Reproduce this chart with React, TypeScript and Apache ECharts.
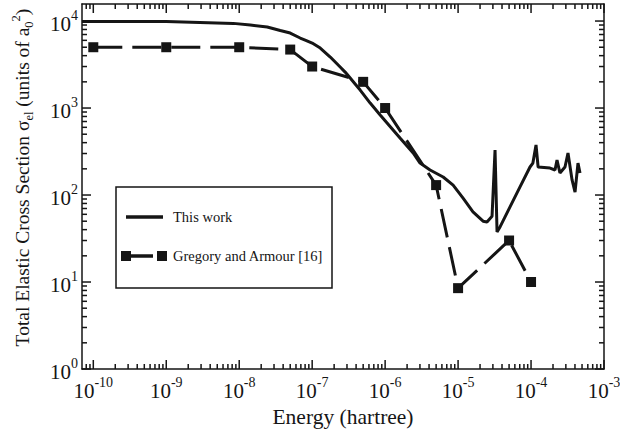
import React, { useEffect, useRef } from "react";
import * as echarts from "echarts";

// Total elastic cross section versus collision energy (log-log)
const energyThisWork = [
  7e-11, 1e-9, 8.3e-9, 1.42e-8, 2.42e-8, 3.65e-8, 5e-8, 6.85e-8, 8.02e-8, 1e-7,
  1.29e-7, 1.77e-7, 2.42e-7, 2.83e-7, 3.32e-7, 3.88e-7, 4.55e-7, 6.24e-7, 8.55e-7,
  1.6e-6, 2.42e-6, 3.01e-6, 4.13e-6, 6.24e-6, 8.55e-6, 1.17e-5, 1.6e-5, 2.2e-5,
  2.49e-5, 2.92e-5, 3.21e-5, 3.42e-5, 3.76e-5, 5.15e-5, 7.06e-5, 9.68e-5, 1.06e-4,
  1.17e-4, 1.25e-4, 1.82e-4, 2.13e-4, 2.27e-4, 2.49e-4, 2.92e-4, 3.21e-4, 3.65e-4,
  4.01e-4, 4.4e-4, 4.69e-4,
];
const sigmaThisWork = [
  9900, 9850, 9400, 9000, 8530, 7780, 7280, 6380, 6050, 5590,
  4890, 3855, 2960, 2590, 2210, 1890, 1610, 1140, 831,
  452, 304, 233, 194, 161, 130, 92, 64, 50,
  49, 57, 329, 37.6, 43, 73, 124, 210, 233,
  376, 210, 204, 194, 253, 179, 210, 304, 149,
  108, 233, 179,
];

const energyGregoryArmour = [1e-10, 1e-9, 1e-8, 5e-8, 1e-7, 5e-7, 1e-6, 5e-6, 1e-5, 5e-5, 1e-4];
const sigmaGregoryArmour = [5000, 5000, 5000, 4700, 3000, 2000, 1000, 130, 8.5, 30, 10];

const seriesNames = ["This work", "Gregory and Armour [16]"];

const X_MIN = 7e-11;
const X_MAX = 1e-3;
const Y_MIN = 1;
const Y_MAX = 1.57e4;

const INK = "#151515";
const SERIF = "Liberation Serif";

function powerLabel(v: number): string {
  const e = Math.log10(v);
  const r = Math.round(e);
  if (Math.abs(e - r) > 1e-6) return "";
  return `{b|10}{s|${r}}`;
}

const tickRich = {
  b: { fontFamily: SERIF, fontSize: 21, color: INK, lineHeight: 32 },
  s: { fontFamily: SERIF, fontSize: 14, color: INK, lineHeight: 14, verticalAlign: "top" },
};

// Major (10^n) and minor (2..9 × 10^n) ticks on all four sides, placed through the grid's scales
function tickElements(chart: echarts.ECharts) {
  const lines: any[] = [];
  const px = (x: number, y: number) =>
    chart.convertToPixel({ xAxisIndex: 0, yAxisIndex: 0 }, [x, y]) as number[];
  const add = (x1: number, y1: number, x2: number, y2: number) =>
    lines.push({
      type: "line",
      silent: true,
      shape: { x1, y1, x2, y2 },
      style: { stroke: INK, lineWidth: 1.5 },
    });
  for (let d = -11; d <= -3; d++) {
    for (let k = 1; k <= 9; k++) {
      const v = k * Math.pow(10, d);
      if (v < X_MIN * 1.0001 || v > X_MAX * 1.0001) continue;
      const len = k === 1 ? 9 : 5;
      const b = px(v, Y_MIN);
      const t = px(v, Y_MAX);
      add(b[0], b[1], b[0], b[1] - len);
      add(t[0], t[1], t[0], t[1] + len);
    }
  }
  for (let d = 0; d <= 4; d++) {
    for (let k = 1; k <= 9; k++) {
      const v = k * Math.pow(10, d);
      if (v < Y_MIN || v > Y_MAX) continue;
      const len = k === 1 ? 9 : 5;
      const l = px(X_MIN, v);
      const r = px(X_MAX, v);
      add(l[0], l[1], l[0] + len, l[1]);
      add(r[0], r[1], r[0] - len, r[1]);
    }
  }
  return { type: "group", id: "ticks", children: lines };
}

const legendBox = {
  type: "group",
  id: "legend-box",
  children: [
    {
      type: "rect",
      shape: { x: 116, y: 187, width: 216, height: 101 },
      style: { fill: "#ffffff", stroke: INK, lineWidth: 1.5 },
    },
    {
      type: "line",
      shape: { x1: 126, y1: 217, x2: 163, y2: 217 },
      style: { stroke: INK, lineWidth: 3.5 },
    },
    {
      type: "text",
      x: 173,
      y: 217,
      style: { text: seriesNames[0], fontFamily: SERIF, fontSize: 14.5, fill: INK, verticalAlign: "middle" },
    },
    { type: "rect", shape: { x: 121, y: 251, width: 10, height: 10 }, style: { fill: INK } },
    {
      type: "line",
      shape: { x1: 131, y1: 256, x2: 153, y2: 256 },
      style: { stroke: INK, lineWidth: 3.5 },
    },
    { type: "rect", shape: { x: 157, y: 251, width: 10, height: 10 }, style: { fill: INK } },
    {
      type: "text",
      x: 173,
      y: 256,
      style: { text: seriesNames[1], fontFamily: SERIF, fontSize: 14.5, fill: INK, verticalAlign: "middle" },
    },
  ],
};

export default function App() {
  const ref = useRef<HTMLDivElement>(null);

  useEffect(() => {
    if (!ref.current) return;
    const chart = echarts.init(ref.current, null, { renderer: "svg" });

    const axisLine = { show: true, onZero: false, lineStyle: { color: INK, width: 1.5 } };

    chart.setOption({
      animation: false,
      backgroundColor: "#ffffff",
      textStyle: { fontFamily: SERIF },
      grid: { left: 82, right: 16, top: 4, bottom: 60, containLabel: false, outerBoundsMode: "none" },
      xAxis: [
        {
          type: "log",
          logBase: 10,
          min: X_MIN,
          max: X_MAX,
          position: "bottom",
          axisLine,
          axisTick: { show: false },
          splitLine: { show: false },
          axisLabel: {
            margin: 6,
            formatter: powerLabel,
            rich: tickRich,
            showMinLabel: true,
            showMaxLabel: true,
            hideOverlap: false,
          },
          name: "Energy (hartree)",
          nameLocation: "middle",
          nameGap: 28,
          nameTextStyle: { fontFamily: SERIF, fontSize: 21.5, color: INK },
        },
        {
          type: "log",
          logBase: 10,
          min: X_MIN,
          max: X_MAX,
          position: "top",
          axisLine,
          axisTick: { show: false },
          splitLine: { show: false },
          axisLabel: { show: false },
        },
      ],
      yAxis: [
        {
          type: "log",
          logBase: 10,
          min: Y_MIN,
          max: Y_MAX,
          position: "left",
          axisLine,
          axisTick: { show: false },
          splitLine: { show: false },
          axisLabel: {
            margin: 4,
            padding: [6, 0, 0, 0],
            formatter: powerLabel,
            rich: tickRich,
            showMinLabel: true,
            hideOverlap: false,
          },
          name: "Total Elastic Cross Section σ{sub|el} (units of a{sub|0}{sup|2})",
          nameLocation: "middle",
          nameGap: 47,
          nameRotate: 90,
          nameTextStyle: {
            fontFamily: SERIF,
            fontSize: 19.5,
            color: INK,
            lineHeight: 26,
            padding: [0, 0, 0, 18],
            rich: {
              sub: { fontFamily: SERIF, fontSize: 12.5, color: INK, lineHeight: 12, verticalAlign: "bottom" },
              sup: { fontFamily: SERIF, fontSize: 12.5, color: INK, lineHeight: 12, verticalAlign: "top" },
            },
          },
        },
        {
          type: "log",
          logBase: 10,
          min: Y_MIN,
          max: Y_MAX,
          position: "right",
          axisLine,
          axisTick: { show: false },
          splitLine: { show: false },
          axisLabel: { show: false },
        },
      ],
      series: [
        {
          type: "line",
          name: seriesNames[0],
          xAxisIndex: 0,
          yAxisIndex: 0,
          data: energyThisWork.map((e, i) => [e, sigmaThisWork[i]]),
          showSymbol: false,
          symbol: "none",
          lineStyle: { color: INK, width: 3 },
          z: 2,
        },
        {
          type: "line",
          name: seriesNames[1],
          xAxisIndex: 0,
          yAxisIndex: 0,
          data: energyGregoryArmour.map((e, i) => [e, sigmaGregoryArmour[i]]),
          symbol: "rect",
          symbolSize: 10,
          itemStyle: { color: INK },
          lineStyle: { color: INK, width: 3, type: [29, 10] },
          z: 3,
        },
      ],
    });

    chart.setOption({ graphic: [tickElements(chart), legendBox] });

    return () => chart.dispose();
  }, []);

  return <div ref={ref} style={{ width: 620, height: 429, position: "absolute", left: 0, top: 0 }} />;
}
